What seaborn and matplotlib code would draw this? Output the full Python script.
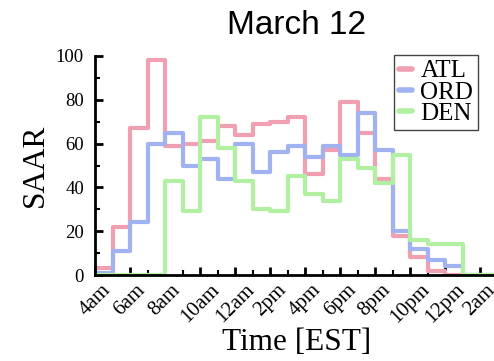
import numpy as np
import pandas as pd
import seaborn as sns
import matplotlib
matplotlib.use("Agg")
import matplotlib.pyplot as plt
from matplotlib.ticker import MultipleLocator, FixedLocator

# ---- data (1-hour bins, start hour; 4 = 4am, 24 = midnight) ----
hours = list(range(4, 27))
atl = [3, 22, 67, 98, 59, 60, 61, 68, 64, 69, 70, 72, 46, 57, 79, 65, 44, 18, 8, 2, 0, 0, 0]
ord_ = [1, 11, 24, 60, 65, 50, 53, 44, 60, 47, 56, 59, 54, 59, 55, 74, 57, 20, 12, 7, 4, 0, 0]
den = [0, 0, 0, 0, 43, 29, 72, 58, 43, 30, 29, 45, 37, 34, 53, 49, 42, 55, 16, 14, 14, 0, 0]
series = {"ATL": atl, "ORD": ord_, "DEN": den}
colors = {"ATL": "#F1A0B2", "ORD": "#A0B2F0", "DEN": "#B0F0A0"}
tick_pos = list(range(4, 27, 2))
tick_labels = ["4am", "6am", "8am", "10am", "12am", "2pm", "4pm", "6pm",
               "8pm", "10pm", "12pm", "2am"]

sns.set_style("white")
plt.rcParams.update({
    "text.color": "black",
    "axes.labelcolor": "black",
    "xtick.color": "black",
    "ytick.color": "black",
    "axes.edgecolor": "black",
})
serif = "Liberation Serif"

fig = plt.figure(figsize=(4.94, 3.61), dpi=100)
ax = fig.add_axes([95 / 494, 86 / 361, 402.5 / 494, 219 / 361])

edges = list(range(4, 28))
for name, vals in series.items():
    df = pd.DataFrame({"hour": hours, "count": vals})
    sns.histplot(data=df, x="hour", weights="count", bins=edges,
                 element="step", fill=False, color=colors[name],
                 linewidth=3, ax=ax, label=name)

ax.set_xlim(4, 27)
ax.set_ylim(0, 100)

ax.xaxis.set_major_locator(FixedLocator(tick_pos))
ax.set_xticklabels(tick_labels, rotation=45, family=serif, fontsize=15)
ax.xaxis.set_minor_locator(MultipleLocator(1))
ax.yaxis.set_major_locator(MultipleLocator(20))
ax.yaxis.set_minor_locator(MultipleLocator(10))
for lab in ax.get_yticklabels():
    lab.set_family(serif)
    lab.set_fontsize(13.5)

ax.tick_params(which="both", direction="in", colors="black")
ax.tick_params(which="major", length=6, width=2)
ax.tick_params(which="minor", length=3.5, width=1.5)
ax.tick_params(axis="x", which="major", pad=4)
ax.tick_params(axis="y", which="major", pad=8)
ax.tick_params(bottom=True, left=True, which="both")

for s in ["top", "right"]:
    ax.spines[s].set_visible(False)
for s in ["left", "bottom"]:
    ax.spines[s].set_color("black")
    ax.spines[s].set_linewidth(2)

ax.set_xlabel("Time [EST]", family=serif, fontsize=22.5)
ax.set_ylabel("SAAR", family=serif, fontsize=22.5)
ax.xaxis.set_label_coords(0.502, -0.24)
ax.yaxis.set_label_coords(-0.112, 0.5)

ax.set_title("March 12", family="Liberation Sans", fontsize=24, pad=16,
             color="black")

leg = ax.legend(loc="upper right", bbox_to_anchor=(0.952, 1.005),
                borderaxespad=0, frameon=True, fancybox=False,
                prop={"family": serif, "size": 18},
                handlelength=0.5, handletextpad=0.35, labelspacing=-0.05,
                borderpad=0.2)
leg.get_frame().set_edgecolor("#444444")
leg.get_frame().set_linewidth(1)
leg.get_frame().set_alpha(1)
for h in leg.legend_handles:
    h.set_linewidth(4)

fig.savefig("out.png", dpi=100)
